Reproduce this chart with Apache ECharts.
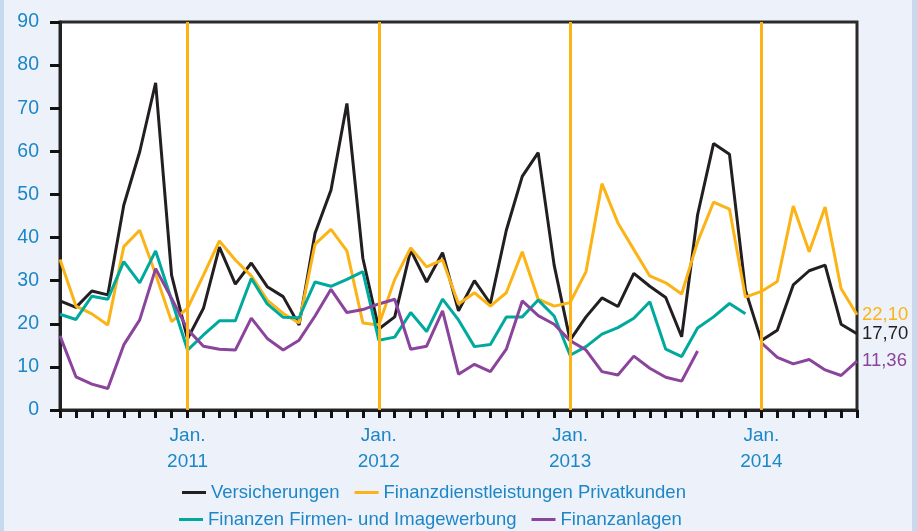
<!DOCTYPE html>
<html>
<head>
<meta charset="utf-8">
<script src="https://cdn.jsdelivr.net/npm/echarts@6/dist/echarts.min.js"></script>
<style>
html,body{margin:0;padding:0;background:#edf2fa;}
#c{width:917px;height:531px;}
</style>
</head>
<body>
<div id="c"></div>
<script>
var months = [
 '2010-05','2010-06','2010-07','2010-08','2010-09','2010-10','2010-11','2010-12',
 '2011-01','2011-02','2011-03','2011-04','2011-05','2011-06','2011-07','2011-08','2011-09','2011-10','2011-11','2011-12',
 '2012-01','2012-02','2012-03','2012-04','2012-05','2012-06','2012-07','2012-08','2012-09','2012-10','2012-11','2012-12',
 '2013-01','2013-02','2013-03','2013-04','2013-05','2013-06','2013-07','2013-08','2013-09','2013-10','2013-11','2013-12',
 '2014-01','2014-02','2014-03','2014-04','2014-05','2014-06','2014-07'
];
var yearMarks = ['2011-01','2012-01','2013-01','2014-01'];
var seriesNames = ['Versicherungen','Finanzdienstleistungen Privatkunden','Finanzen Firmen- und Imagewerbung','Finanzanlagen'];

var versicherungen = [25.3,23.8,27.6,26.7,47.5,59.9,75.9,31.3,16.5,23.6,
 37.8,29.2,34.1,28.6,26.3,19.7,41.0,51.0,71.1,35.2,
 18.8,21.6,37.1,29.7,36.5,23.0,30.0,24.7,41.7,54.2,
 59.7,33.6,16.2,21.6,26.0,24.0,31.7,28.7,26.1,17.0,
 45.3,61.8,59.3,27.8,16.1,18.5,29.0,32.3,33.6,19.9,
 17.70];
var privatkunden = [34.9,24.1,22.3,19.7,37.9,41.7,31.5,20.5,23.6,31.3,
 39.2,34.8,31.1,25.5,22.4,20.2,38.5,41.9,36.9,20.2,
 19.7,30.3,37.6,33.2,34.8,24.6,27.2,24.1,27.2,36.7,
 25.7,24.1,24.9,32.1,52.5,43.4,37.2,31.1,29.5,26.9,
 39.0,48.2,46.6,26.2,27.5,29.8,47.3,36.7,47.1,28.2,
 22.10];
var firmen = [22.2,21.0,26.4,25.7,34.4,29.5,36.9,25.5,13.9,17.4,
 20.7,20.7,30.5,24.6,21.5,21.4,29.7,28.7,30.3,32.1,
 16.2,16.9,22.6,18.2,25.7,20.9,14.7,15.2,21.6,21.6,
 25.5,21.8,12.7,14.7,17.6,19.1,21.3,25.1,14.1,12.4,
 19.0,21.6,24.7,22.3,null,null,null,null,null,null,
 null];
var anlagen = [17.2,7.7,6.0,5.0,15.1,20.9,32.8,25.9,18.7,14.8,
 14.1,13.9,21.3,16.6,13.9,16.2,21.8,28.0,22.6,23.3,
 24.6,25.7,14.1,14.8,23.0,8.3,10.6,8.9,14.1,25.3,
 21.9,19.9,16.1,13.9,8.9,8.1,12.5,9.7,7.6,6.7,
 13.7,null,null,null,15.6,12.2,10.7,11.7,9.3,8.0,
 11.36];

var colors = ['#231f20','#fbb316','#00a99d','#8b449c'];
var blue = '#1d86c6';
var FONT = "'Liberation Sans',Arial,sans-serif";

function mkSeries(idx, data, withEnd){
  var s = {
    name: seriesNames[idx], type: 'line', data: data, symbol: 'none', z: 3,
    lineStyle: {color: colors[idx], width: 3}, itemStyle: {color: colors[idx]},
    connectNulls: false, animation: false
  };
  if (withEnd) {
    s.endLabel = {show: true, distance: 5, color: colors[idx], fontFamily: FONT, fontSize: 18.5,
      formatter: function(p){ var v = Array.isArray(p.value) ? p.value[1] : p.value; return Number(v).toFixed(2).replace('.', ','); }};
  }
  return s;
}

var chart = echarts.init(document.getElementById('c'), null, {renderer: 'canvas'});
chart.setOption({
  backgroundColor: '#edf2fa',
  animation: false,
  textStyle: {fontFamily: FONT},
  graphic: [
    {type: 'rect', left: 0, top: 0, shape: {width: 4, height: 531}, style: {fill: '#c7d9ef'}, silent: true},
    {type: 'rect', left: 912, top: 0, shape: {width: 5, height: 531}, style: {fill: '#c7d9ef'}, silent: true}
  ],
  grid: {left: 60, top: 22, width: 797, height: 388, show: true, backgroundColor: '#ffffff', borderColor: '#2a2a2a', borderWidth: 3},
  legend: [
    {data: [seriesNames[0], seriesNames[1]], left: 182, top: 483, padding: 0, itemWidth: 24, itemHeight: 3, itemGap: 15, icon: 'rect',
     textStyle: {color: blue, fontSize: 18.5, fontFamily: FONT}},
    {data: [seriesNames[2], seriesNames[3]], left: 179, top: 510, padding: 0, itemWidth: 24, itemHeight: 3, itemGap: 15, icon: 'rect',
     textStyle: {color: blue, fontSize: 18.5, fontFamily: FONT}}
  ],
  xAxis: {
    type: 'category', data: months, boundaryGap: false,
    axisLine: {show: true, lineStyle: {color: '#222', width: 3}},
    axisTick: {show: true, interval: 0, length: 8, inside: false, lineStyle: {color: '#111', width: 3}},
    axisLabel: {interval: 0, margin: 13, color: blue, fontSize: 19, lineHeight: 26, fontFamily: FONT,
      formatter: function(v){ var p = v.split('-'); return p[1] === '01' ? 'Jan.\n' + p[0] : ''; }},
    splitLine: {show: false}
  },
  yAxis: {
    type: 'value', min: 0, max: 90, interval: 10,
    axisLine: {show: true, lineStyle: {color: '#222', width: 3}},
    axisTick: {show: true, length: 10, inside: false, lineStyle: {color: '#111', width: 3}},
    axisLabel: {margin: 21, color: blue, fontSize: 19.5, fontFamily: FONT},
    splitLine: {show: false}
  },
  series: [
    {type: 'line', data: [], z: 1, silent: true,
     markLine: {symbol: 'none', silent: true, animation: false, label: {show: false},
       lineStyle: {color: '#fbb316', width: 3, type: 'solid'},
       data: yearMarks.map(function(m){ return {xAxis: m}; })}},
    mkSeries(0, versicherungen, true),
    mkSeries(1, privatkunden, true),
    mkSeries(2, firmen, false),
    mkSeries(3, anlagen, true)
  ]
});
</script>
</body>
</html>
